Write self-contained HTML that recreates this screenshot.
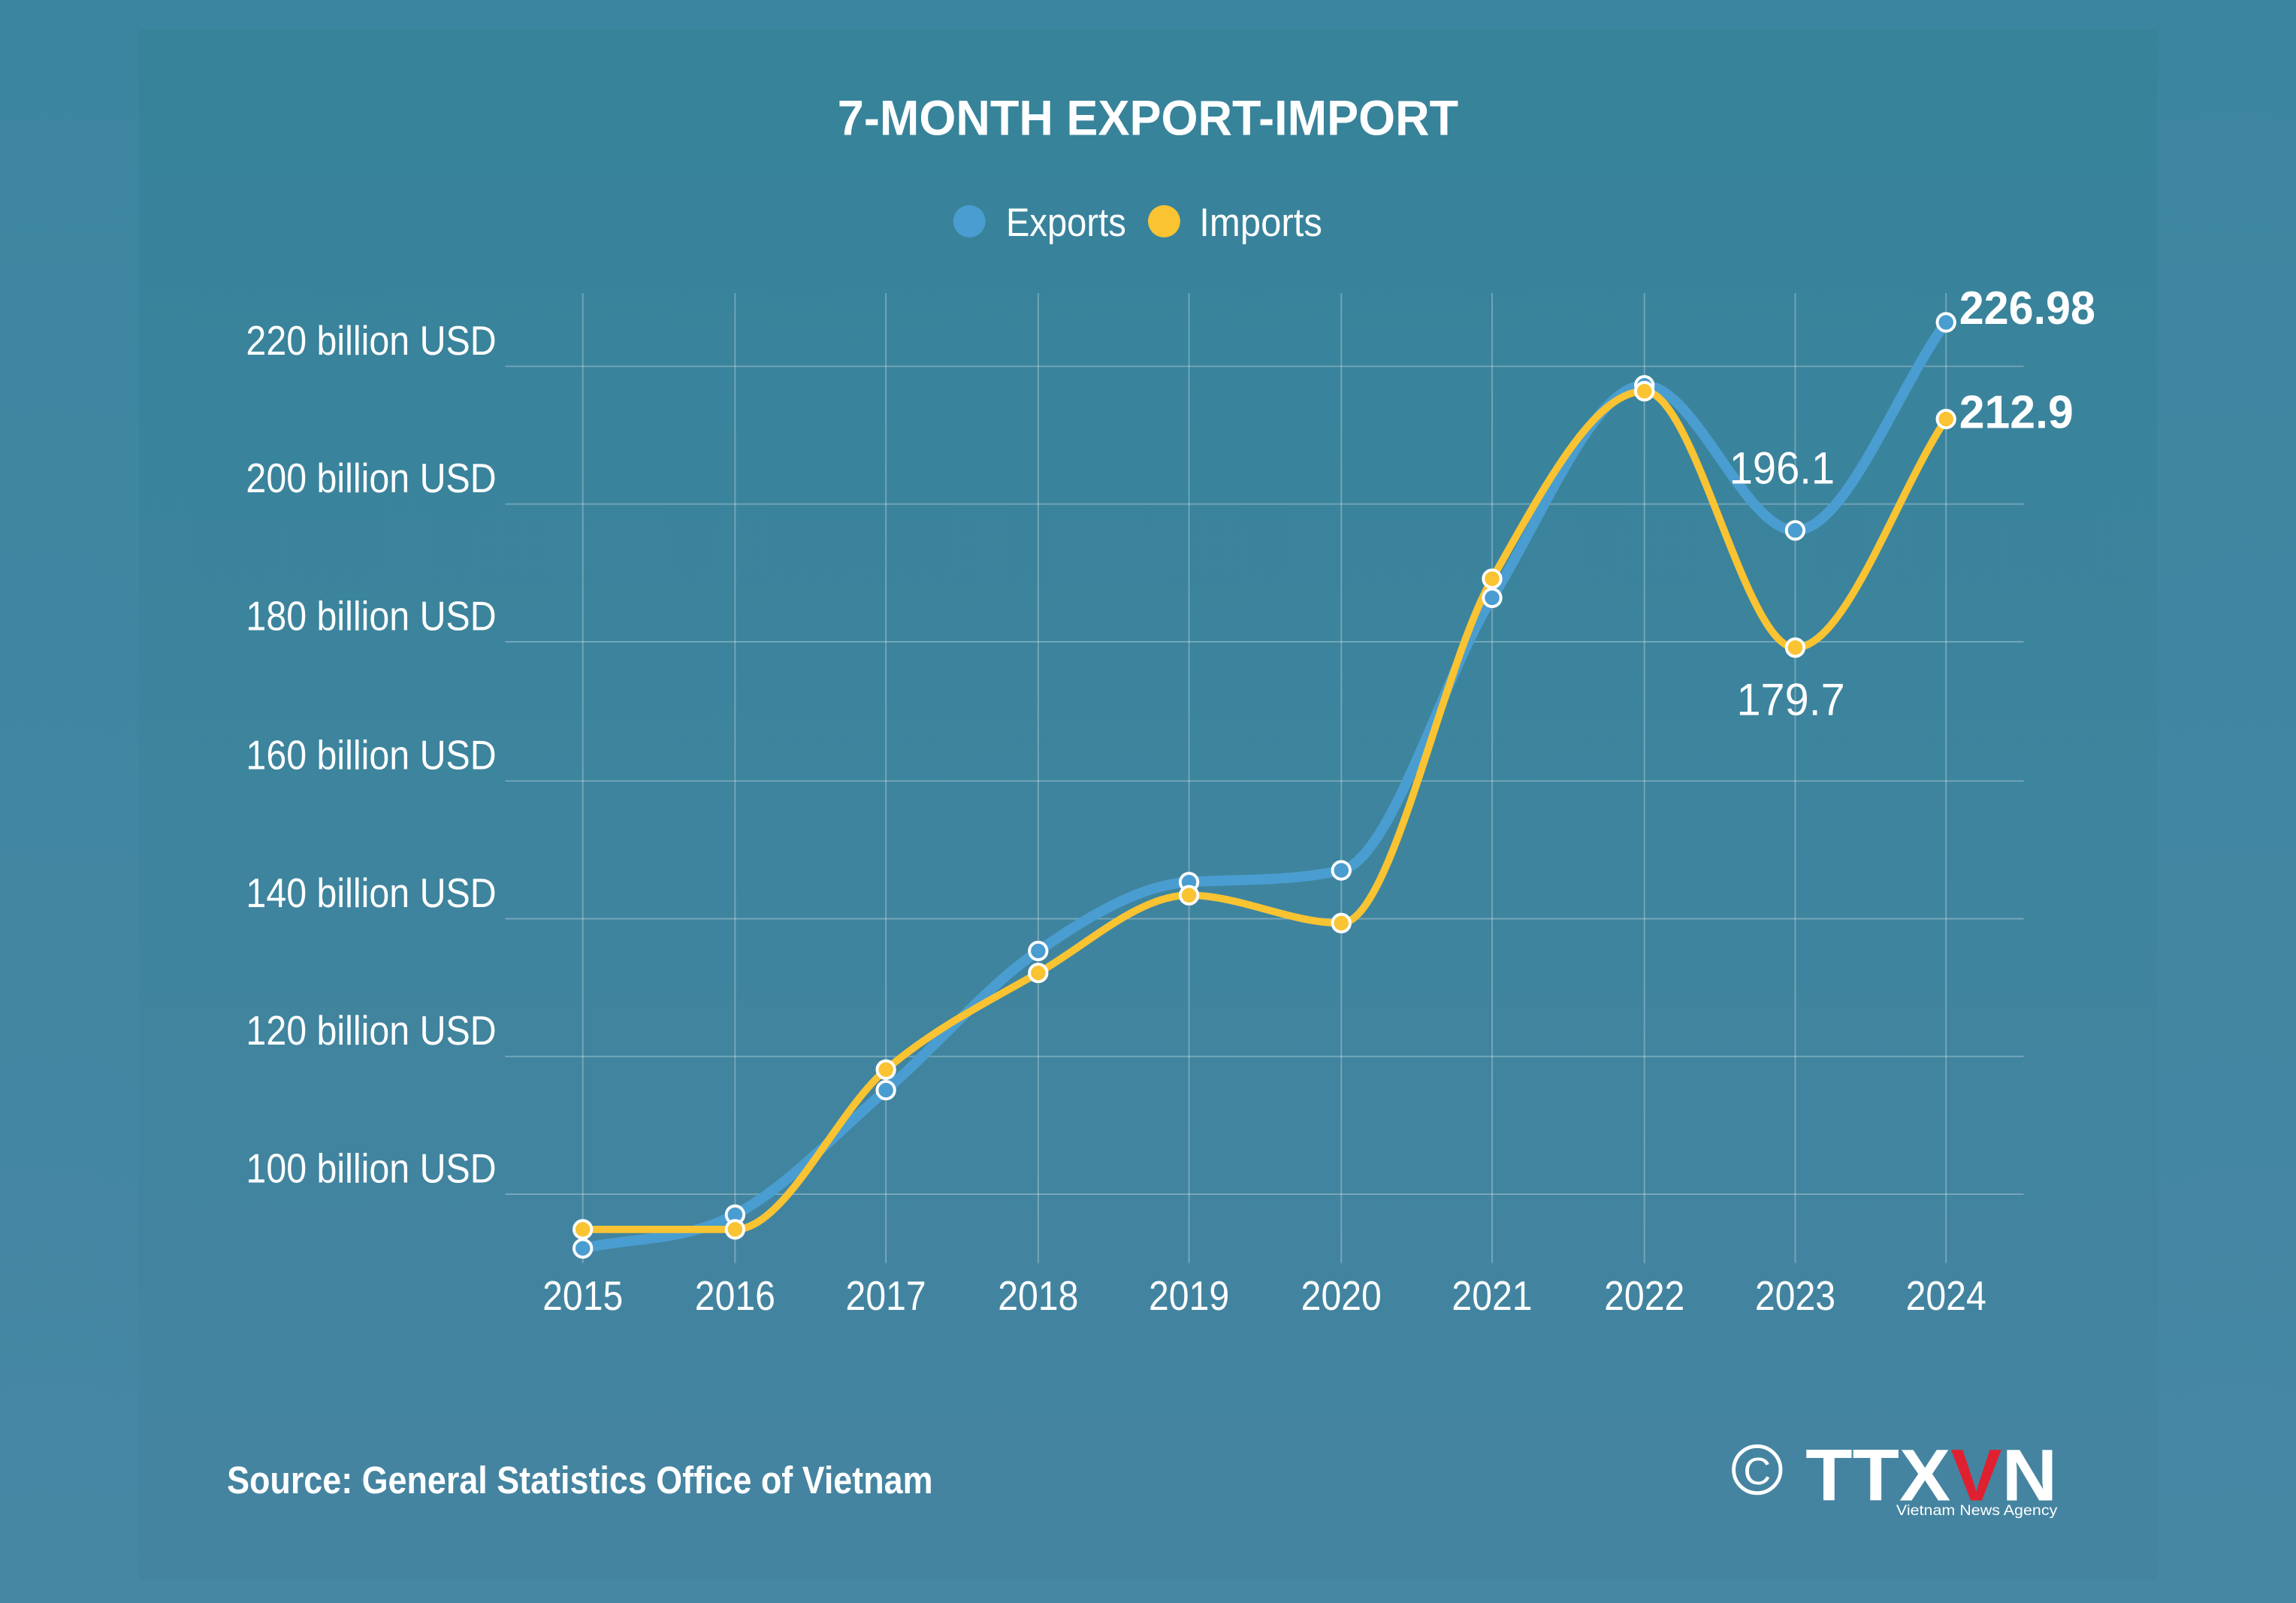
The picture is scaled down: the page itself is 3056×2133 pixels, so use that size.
<!DOCTYPE html>
<html><head><meta charset="utf-8"><style>
html,body{margin:0;padding:0;width:3056px;height:2133px;overflow:hidden;background:#4286a1}
svg{display:block}
text{font-family:"Liberation Sans Narrow","Liberation Sans",sans-serif;fill:#fff}
</style></head><body>
<svg width="3056" height="2133" viewBox="0 0 1568 1094" preserveAspectRatio="none" xmlns="http://www.w3.org/2000/svg">
<defs>
<linearGradient id="bg" x1="0" y1="0" x2="0" y2="1">
<stop offset="0" stop-color="#36839a"/><stop offset="1" stop-color="#4584a1"/>
</linearGradient>
<linearGradient id="ob" x1="0" y1="0" x2="0" y2="1">
<stop offset="0" stop-color="#3c85a0"/><stop offset="1" stop-color="#4687a4"/>
</linearGradient>
</defs>
<rect width="1568" height="1094" fill="url(#ob)"/>
<rect x="95" y="20" width="1378" height="1058" fill="url(#bg)"/>
<text x="572" y="92" font-size="34" font-weight="bold" textLength="424" lengthAdjust="spacingAndGlyphs">7-MONTH EXPORT-IMPORT</text>
<circle cx="662" cy="151" r="11" fill="#4a9dd0"/>
<text x="687" y="161" font-size="27" textLength="82" lengthAdjust="spacingAndGlyphs">Exports</text>
<circle cx="795" cy="151" r="11" fill="#f9c332"/>
<text x="819" y="161" font-size="27" textLength="84" lengthAdjust="spacingAndGlyphs">Imports</text>
<g stroke="#ffffff" stroke-opacity="0.28" stroke-width="1">
<line x1="345" y1="250" x2="1382" y2="250"/><line x1="345" y1="344" x2="1382" y2="344"/>
<line x1="345" y1="438" x2="1382" y2="438"/><line x1="345" y1="533" x2="1382" y2="533"/>
<line x1="345" y1="627" x2="1382" y2="627"/><line x1="345" y1="721" x2="1382" y2="721"/>
<line x1="345" y1="815" x2="1382" y2="815"/>
<line x1="398" y1="200" x2="398" y2="862"/><line x1="502" y1="200" x2="502" y2="862"/>
<line x1="605" y1="200" x2="605" y2="862"/><line x1="709" y1="200" x2="709" y2="862"/>
<line x1="812" y1="200" x2="812" y2="862"/><line x1="916" y1="200" x2="916" y2="862"/>
<line x1="1019" y1="200" x2="1019" y2="862"/><line x1="1123" y1="200" x2="1123" y2="862"/>
<line x1="1226" y1="200" x2="1226" y2="862"/><line x1="1329" y1="200" x2="1329" y2="862"/>
</g>
<g font-size="28">
<text x="168" y="242" textLength="171" lengthAdjust="spacingAndGlyphs">220 billion USD</text>
<text x="168" y="336" textLength="171" lengthAdjust="spacingAndGlyphs">200 billion USD</text>
<text x="168" y="430" textLength="171" lengthAdjust="spacingAndGlyphs">180 billion USD</text>
<text x="168" y="525" textLength="171" lengthAdjust="spacingAndGlyphs">160 billion USD</text>
<text x="168" y="619" textLength="171" lengthAdjust="spacingAndGlyphs">140 billion USD</text>
<text x="168" y="713" textLength="171" lengthAdjust="spacingAndGlyphs">120 billion USD</text>
<text x="168" y="807" textLength="171" lengthAdjust="spacingAndGlyphs">100 billion USD</text>
</g>
<g font-size="28" text-anchor="middle">
<text x="398" y="894" textLength="55" lengthAdjust="spacingAndGlyphs">2015</text>
<text x="502" y="894" textLength="55" lengthAdjust="spacingAndGlyphs">2016</text>
<text x="605" y="894" textLength="55" lengthAdjust="spacingAndGlyphs">2017</text>
<text x="709" y="894" textLength="55" lengthAdjust="spacingAndGlyphs">2018</text>
<text x="812" y="894" textLength="55" lengthAdjust="spacingAndGlyphs">2019</text>
<text x="916" y="894" textLength="55" lengthAdjust="spacingAndGlyphs">2020</text>
<text x="1019" y="894" textLength="55" lengthAdjust="spacingAndGlyphs">2021</text>
<text x="1123" y="894" textLength="55" lengthAdjust="spacingAndGlyphs">2022</text>
<text x="1226" y="894" textLength="55" lengthAdjust="spacingAndGlyphs">2023</text>
<text x="1329" y="894" textLength="55" lengthAdjust="spacingAndGlyphs">2024</text>
</g>
<path id="pe" fill="none" stroke="#4a9dd0" stroke-width="7" stroke-linecap="round"/>
<path id="pi" fill="none" stroke="#f9c332" stroke-width="5" stroke-linecap="round"/>
<g id="me"></g><g id="mi"></g>
<text x="1181" y="330" font-size="31" textLength="72" lengthAdjust="spacingAndGlyphs">196.1</text>
<text x="1186" y="488" font-size="31" textLength="74" lengthAdjust="spacingAndGlyphs">179.7</text>
<text x="1338" y="221" font-size="32" font-weight="bold" textLength="93" lengthAdjust="spacingAndGlyphs">226.98</text>
<text x="1338" y="292" font-size="32" font-weight="bold" textLength="78" lengthAdjust="spacingAndGlyphs">212.9</text>
<text x="155" y="1019" font-size="26" font-weight="bold" textLength="482" lengthAdjust="spacingAndGlyphs">Source: General Statistics Office of Vietnam</text>
<circle cx="1200" cy="1003" r="16" fill="none" stroke="#fff" stroke-width="2.5"/>
<text x="1200" y="1013" font-size="26" text-anchor="middle">C</text>
<text x="1233" y="1024" font-size="50" font-weight="bold" font-family="Liberation Sans" textLength="172" lengthAdjust="spacingAndGlyphs">TTX<tspan fill="#e02030">V</tspan>N</text>
<text x="1295" y="1034" font-size="10" fill="#dde" textLength="110" lengthAdjust="spacingAndGlyphs">Vietnam News Agency</text>
</svg>
<script>
var xs=[398,502,605,709,812,916,1019,1123,1226,1329];
var ey=[852,829,744,649,602,594,408,263,362,220];
var iy=[839,839,730,664,611,630,395,267,442,286];
function path(ys){var n=xs.length,d="M"+xs[0]+","+ys[0];
var dl=[];for(var i=0;i<n-1;i++)dl.push((ys[i+1]-ys[i])/(xs[i+1]-xs[i]));
var m=[dl[0]];for(var i=1;i<n-1;i++){if(dl[i-1]*dl[i]<=0)m.push(0);else m.push((dl[i-1]+dl[i])/2);}m.push(dl[n-2]);
for(var i=0;i<n-1;i++){if(dl[i]==0){m[i]=0;m[i+1]=0;}else{var a=m[i]/dl[i],b=m[i+1]/dl[i],s=a*a+b*b;if(s>9){var t=3/Math.sqrt(s);m[i]=t*a*dl[i];m[i+1]=t*b*dl[i];}}}
for(var i=0;i<n-1;i++){var h=xs[i+1]-xs[i];d+=" C"+(xs[i]+h/3)+","+(ys[i]+m[i]*h/3)+" "+(xs[i+1]-h/3)+","+(ys[i+1]-m[i+1]*h/3)+" "+xs[i+1]+","+ys[i+1];}
return d;}
document.getElementById("pe").setAttribute("d",path(ey));
document.getElementById("pi").setAttribute("d",path(iy));
function marks(id,ys,c){var g=document.getElementById(id),s="";for(var i=0;i<xs.length;i++)s+='<circle cx="'+xs[i]+'" cy="'+ys[i]+'" r="6" fill="'+c+'" stroke="#fff" stroke-width="2"/>';g.innerHTML=s;}
marks("me",ey,"#4a9dd0");marks("mi",iy,"#f9c332");
</script>
</body></html>
